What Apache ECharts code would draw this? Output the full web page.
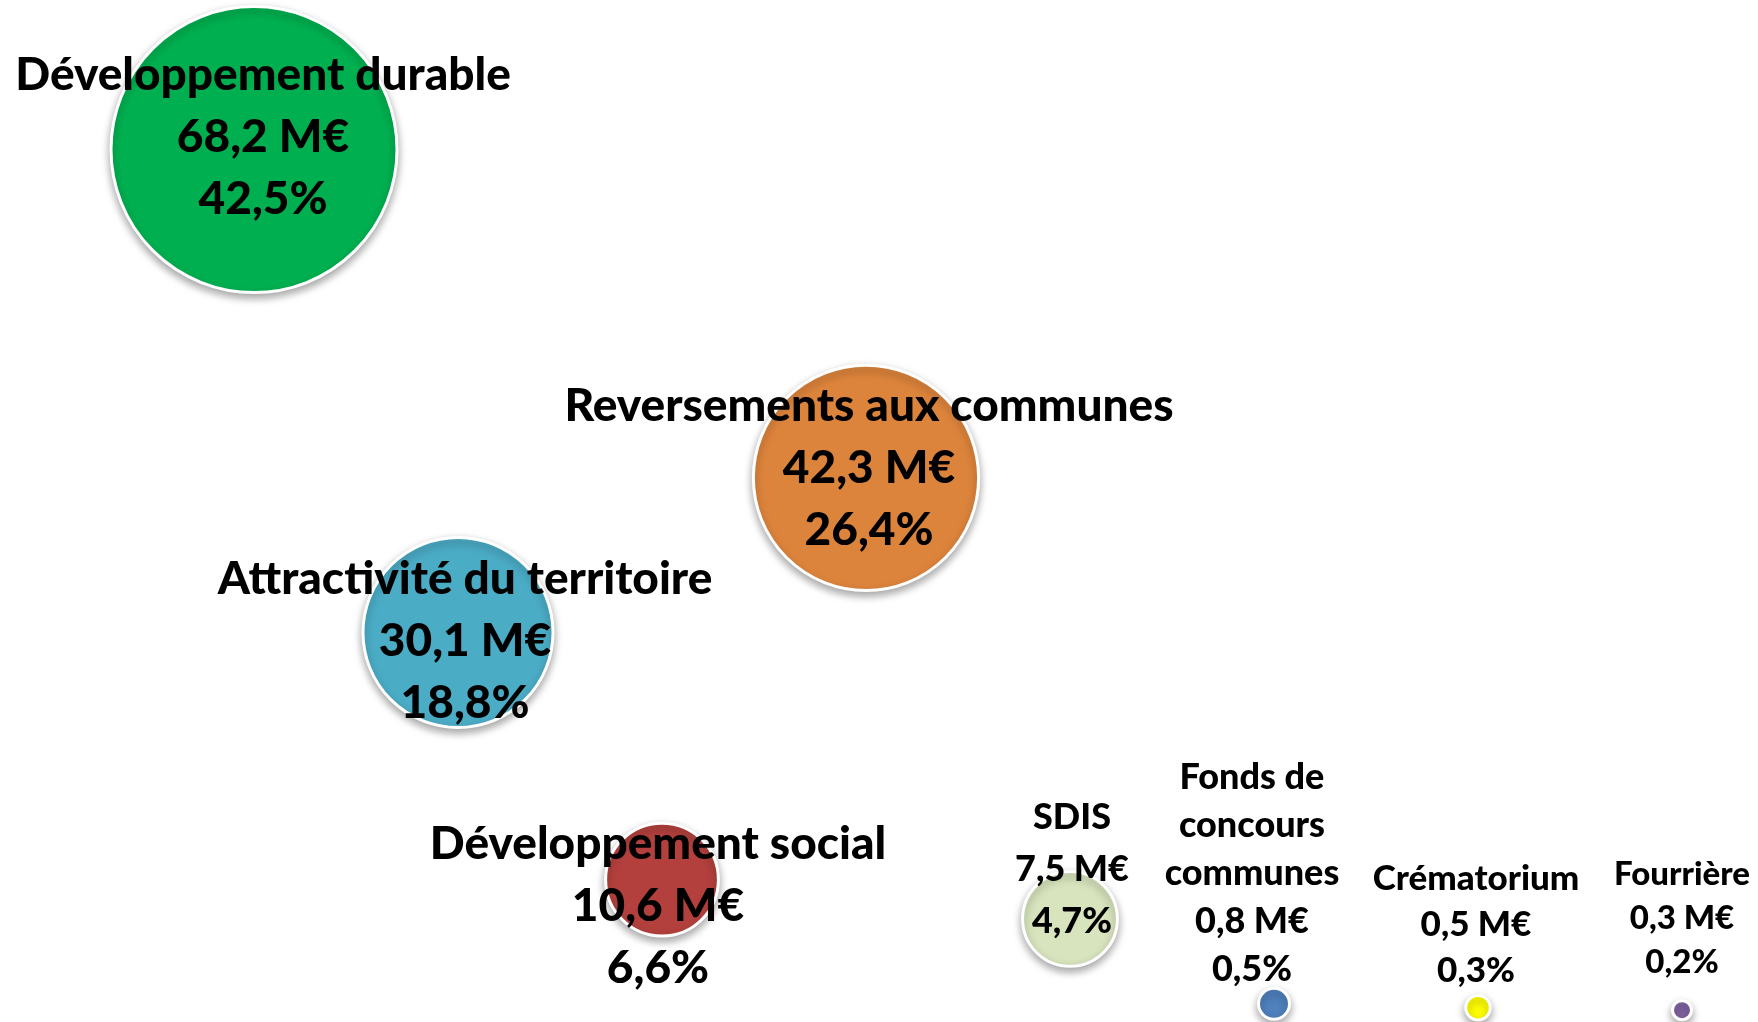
<!DOCTYPE html>
<html>
<head>
<meta charset="utf-8">
<script src="https://cdn.jsdelivr.net/npm/echarts@6/dist/echarts.min.js"></script>
<style>
  html, body { margin: 0; padding: 0; background: #fff; }
  #chart { width: 1758px; height: 1022px; }
</style>
</head>
<body>
<div id="chart"></div>
<script>
// budget par politique (M€) et part du total
const names = ['Développement durable', 'Attractivité du territoire', 'Développement social',
  'Reversements aux communes', 'SDIS', 'Fonds de\nconcours\ncommunes', 'Crématorium', 'Fourrière']
const positions = [1, 2, 3, 4, 5, 6, 7, 8]
const amounts = [68.2, 30.1, 10.6, 42.3, 7.5, 0.8, 0.5, 0.3]
const shares = [42.5, 18.8, 6.6, 26.4, 4.7, 0.5, 0.3, 0.2]

const colors = ['#00B050', '#4BACC6', '#B3403D', '#DD843C', '#D7E4BD', '#4F81BD', '#FFFF00', '#8064A2']
// label placement, relative to bubble centre
const labelOffsets = [[9, -12], [7, 9], [-4, 27], [3, -10], [2, -50], [-22, -130], [-2, -83], [0, -92]]
const labelFonts = [[46, 62], [46, 62], [46, 62], [46, 62], [36, 52], [36, 48], [35, 46], [33, 44]]

const fmt = v => String(v).replace('.', ',')

const chart = echarts.init(document.getElementById('chart'))

chart.setOption({
  animation: false,
  grid: {
    left: 254,
    right: 76,
    top: 0,
    bottom: 8
  },
  xAxis: {
    type: 'value',
    min: 1,
    max: 8,
    show: false
  },
  yAxis: {
    type: 'value',
    min: 0,
    max: 80,
    show: false
  },
  series: [{
    type: 'scatter',
    clip: false,
    data: amounts.map((v, i) => ({
      name: names[i],
      value: [positions[i], v],
      symbolSize: 2 * 143 * Math.sqrt(v / 68.2),
      itemStyle: {
        color: colors[i]
      },
      label: {
        offset: labelOffsets[i],
        fontSize: labelFonts[i][0],
        lineHeight: labelFonts[i][1]
      }
    })),
    itemStyle: {
      borderColor: '#fff',
      borderWidth: 3,
      opacity: 1,
      shadowBlur: 8,
      shadowOffsetY: 4,
      shadowColor: 'rgba(0,0,0,0.35)'
    },
    label: {
      show: true,
      position: 'inside',
      color: '#000',
      fontFamily: 'Lato',
      fontWeight: 900,
      align: 'center',
      formatter: p => p.name + '\n' + fmt(amounts[p.dataIndex]) + ' M€\n' + fmt(shares[p.dataIndex]) + '%'
    }
  }]
})
</script>
</body>
</html>
